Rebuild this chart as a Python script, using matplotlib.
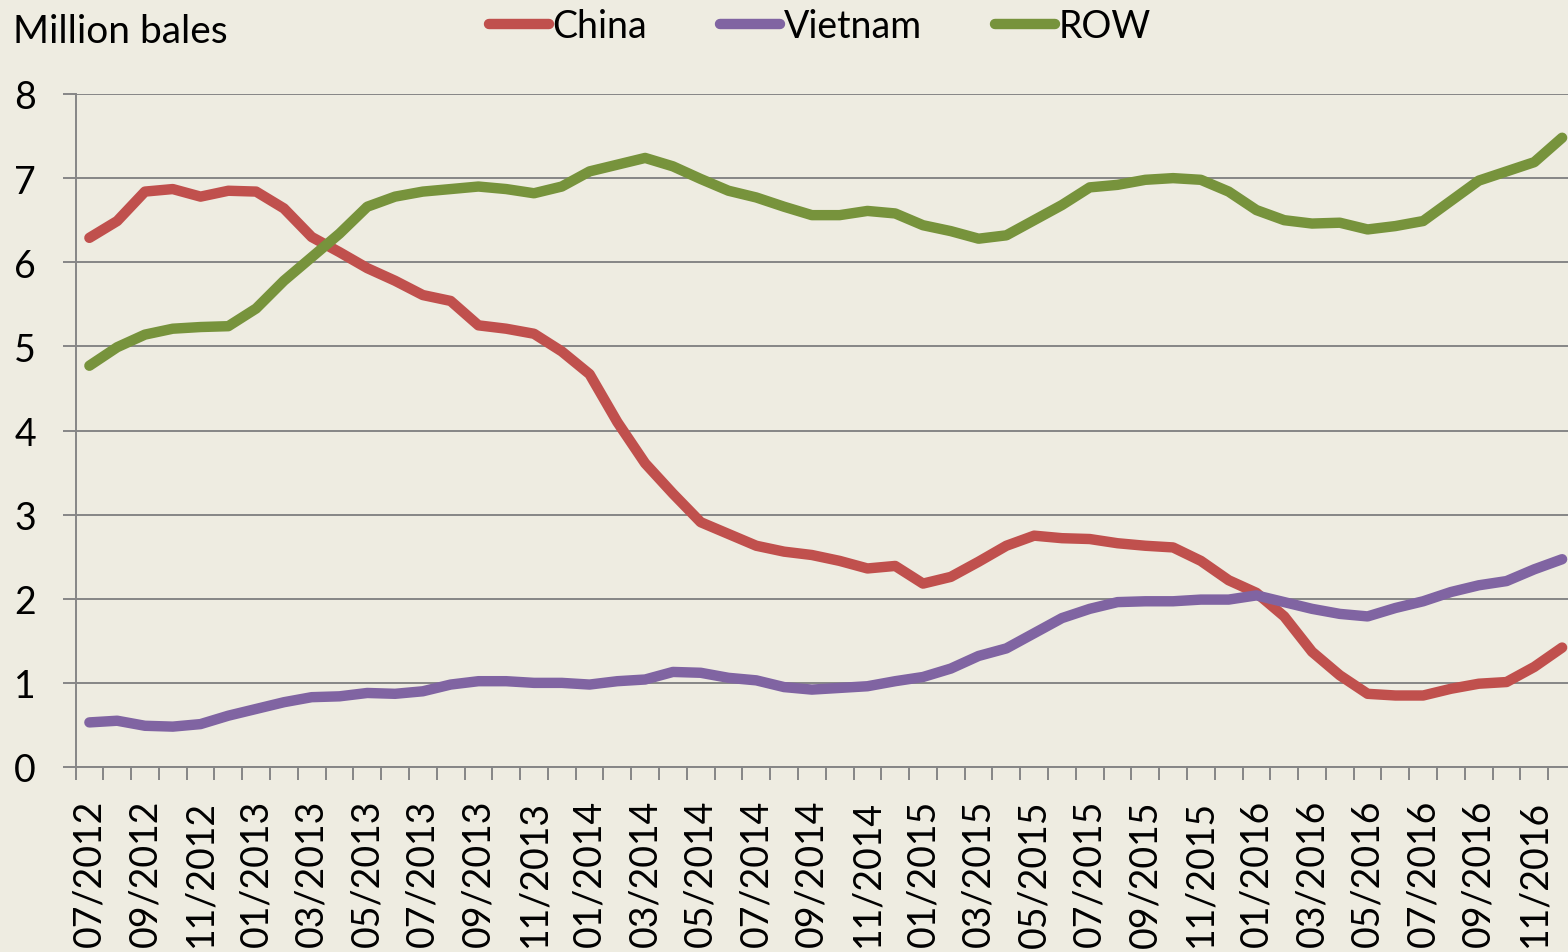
import matplotlib
matplotlib.use("Agg")
import matplotlib.pyplot as plt
from matplotlib.ticker import FixedLocator, NullFormatter

# monthly categories 07/2012 .. 12/2016
months = ["%02d/%d" % (m, y) for y in range(2012, 2017) for m in range(1, 13)
          if (y, m) >= (2012, 7)]

china = [6.29, 6.49, 6.84, 6.87, 6.78, 6.85, 6.84, 6.64, 6.30, 6.12,
         5.93, 5.78, 5.61, 5.54, 5.25, 5.21, 5.15, 4.94, 4.67, 4.10,
         3.61, 3.25, 2.91, 2.77, 2.63, 2.56, 2.52, 2.45, 2.36, 2.39,
         2.18, 2.26, 2.44, 2.63, 2.75, 2.72, 2.71, 2.66, 2.63, 2.61,
         2.45, 2.22, 2.07, 1.79, 1.37, 1.09, 0.87, 0.85, 0.85, 0.93,
         0.99, 1.01, 1.19, 1.42]
vietnam = [0.53, 0.55, 0.49, 0.48, 0.51, 0.61, 0.69, 0.77, 0.83, 0.84,
           0.88, 0.87, 0.90, 0.98, 1.02, 1.02, 1.00, 1.00, 0.98, 1.02,
           1.04, 1.13, 1.12, 1.06, 1.03, 0.95, 0.92, 0.94, 0.96, 1.02,
           1.07, 1.17, 1.32, 1.41, 1.59, 1.77, 1.88, 1.96, 1.97, 1.97,
           1.99, 1.99, 2.04, 1.96, 1.88, 1.82, 1.79, 1.89, 1.97, 2.08,
           2.16, 2.21, 2.35, 2.47]
row = [4.77, 4.99, 5.14, 5.21, 5.23, 5.24, 5.45, 5.78, 6.06, 6.34,
       6.66, 6.78, 6.84, 6.87, 6.90, 6.87, 6.82, 6.90, 7.08, 7.16,
       7.24, 7.14, 6.99, 6.85, 6.77, 6.66, 6.56, 6.56, 6.61, 6.58,
       6.44, 6.37, 6.28, 6.32, 6.50, 6.68, 6.89, 6.92, 6.98, 7.00,
       6.98, 6.84, 6.62, 6.50, 6.46, 6.47, 6.39, 6.43, 6.49, 6.73,
       6.97, 7.08, 7.19, 7.48]

BG = "#EEECE1"
GRID = "#868686"

plt.rcParams["font.family"] = ["Lato", "DejaVu Sans"]

fig = plt.figure(figsize=(15.68, 9.53), dpi=100)
fig.patch.set_facecolor(BG)
ax = fig.add_axes([75.5 / 1568, 1 - 768 / 953, (1576 - 75.5) / 1568, (768 - 95) / 953])
ax.set_facecolor(BG)

x = list(range(len(months)))
series = [("China", china, "#C0504D"), ("Vietnam", vietnam, "#8064A2"), ("ROW", row, "#77933C")]
for name, vals, col in series:
    ax.plot(x, vals, color=col, linewidth=7.5, label=name,
            solid_capstyle="round", solid_joinstyle="round")

ax.set_xlim(-0.5, len(months) - 0.5)
ax.set_ylim(0, 8)
ax.set_yticks(range(0, 9))
ax.yaxis.grid(True, color=GRID, linewidth=1.4)
ax.set_axisbelow(True)

for s in ["top", "right"]:
    ax.spines[s].set_visible(False)
for s in ["left", "bottom"]:
    ax.spines[s].set_color(GRID)
    ax.spines[s].set_linewidth(1.4)

ax.set_xticks(x[::2])
ax.set_xticklabels(months[::2], rotation=90, fontsize=27)
ax.xaxis.set_minor_locator(FixedLocator([i - 0.5 for i in range(len(months) + 1)]))
ax.xaxis.set_minor_formatter(NullFormatter())
ax.tick_params(axis="x", which="major", length=0, pad=23)
ax.tick_params(axis="x", which="minor", length=9.4, width=1.4, color=GRID)
ax.tick_params(axis="y", length=9.4, width=1.4, color=GRID, pad=19, labelsize=27)

fig.text(13 / 1568, 1 - 43 / 953, "Million bales", fontsize=28, va="baseline", ha="left")

fig.legend(loc="center", bbox_to_anchor=(820 / 1568, 1 - 27 / 953), ncol=3,
           frameon=False, fontsize=27, handlelength=1.6, handletextpad=0.1,
           columnspacing=1.95, borderaxespad=0)

fig.savefig("out.png", dpi=100, facecolor=BG)
